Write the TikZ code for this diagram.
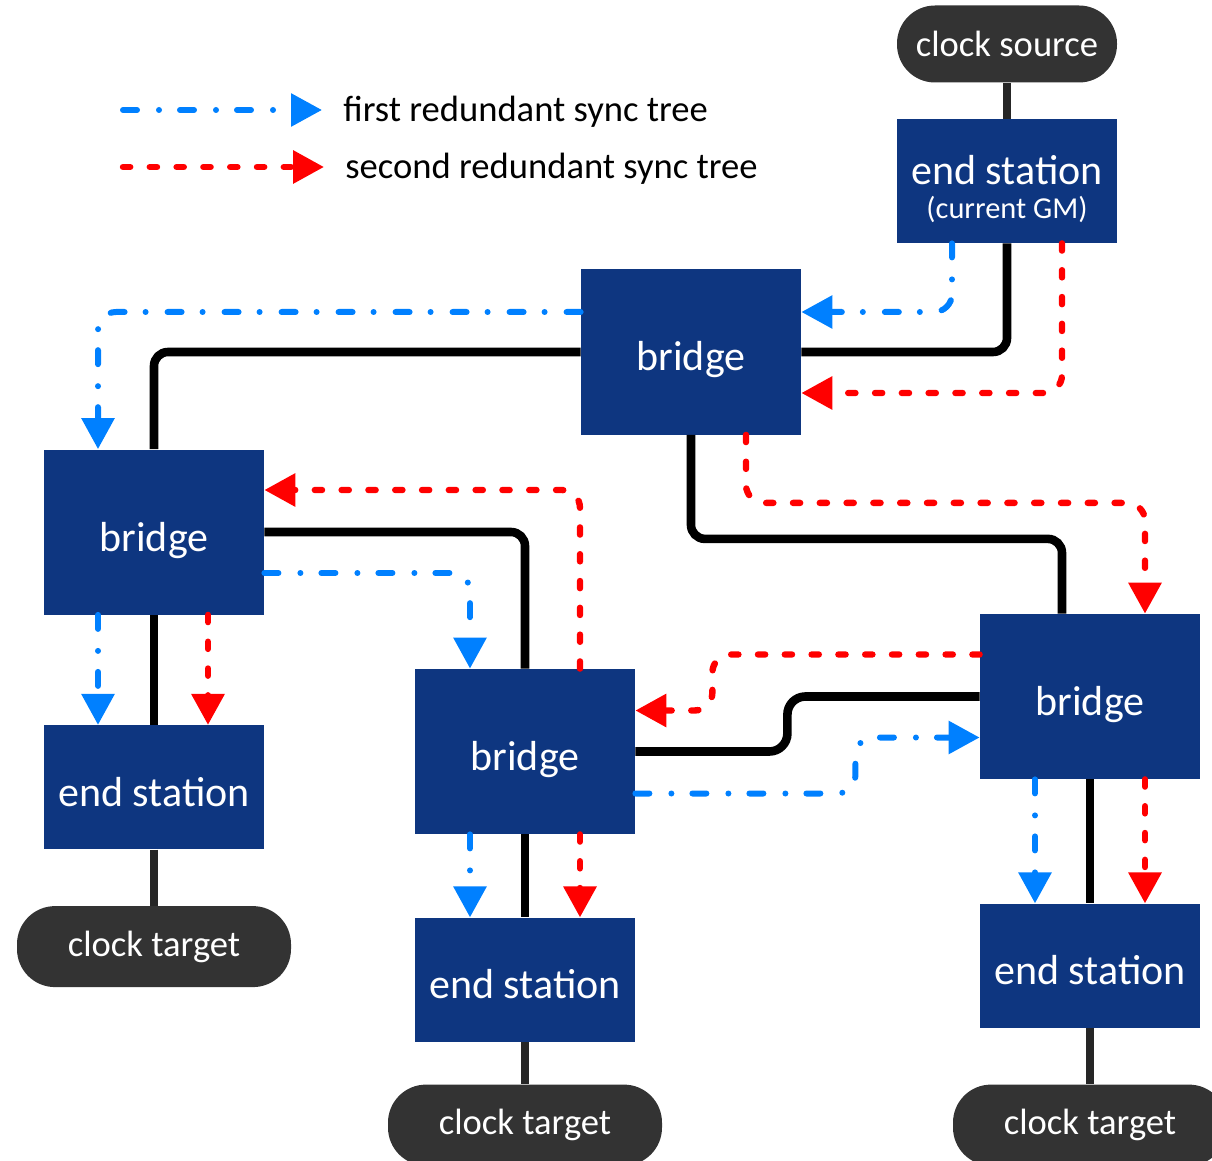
\documentclass[tikz,border=0pt]{standalone}
\usepackage{fontspec}
\setmainfont{Carlito}
\usetikzlibrary{positioning,arrows.meta}

\definecolor{netblue}{RGB}{14,54,128}
\definecolor{pillgray}{RGB}{51,51,51}
\definecolor{treeblue}{RGB}{0,128,255}
\definecolor{treered}{RGB}{255,0,0}

\begin{document}
\begin{tikzpicture}[x=0.5pt, y=-0.5pt]
\tikzset{
    netbox/.style={rectangle, fill=netblue, text=white, text centered, inner sep=0pt, text height=19pt, text depth=0pt, minimum width=110pt, font=\fontsize{21}{25}\selectfont},
    bridgebox/.style={netbox, minimum height=82.5pt},
    stationbox/.style={netbox, minimum height=62pt},
    clockpill/.style={rectangle, rounded corners=19pt, fill=pillgray, text=white, text centered, inner sep=0pt, minimum width=137pt, minimum height=40.5pt, font=\fontsize{18.3}{22}\selectfont},
    legendtext/.style={anchor=west, inner xsep=10.5pt, font=\fontsize{18.3}{22}\selectfont},
    wire/.style={draw=black, line width=4.3pt, rounded corners=7pt},
    pillwire/.style={draw=black!85, line width=4pt},
    treeone/.style={draw=treeblue, line width=3pt, line cap=round, rounded corners=9pt, dash pattern=on 7pt off 11pt on 0pt off 10.5pt, -{Triangle[length=15.5pt, width=16pt, fill=treeblue]}},
    treetwo/.style={draw=treered, line width=3.2pt, line cap=round, rounded corners=9pt, dash pattern=on 3.6pt off 9.8pt, -{Triangle[length=15.5pt, width=16pt, fill=treered]}}
}
\useasboundingbox (0,0) rectangle (1212,1161);

% nodes
\node[clockpill, minimum width=110pt, minimum height=38.5pt] (src) at (1007,44) {clock source};
\node[stationbox, align=center, text height=38pt] (gm) at (1007,181) {end station\\[-8pt]{\fontsize{15.2}{18}\selectfont (current GM)}};
\node[bridgebox] (bt) at (691,352) {bridge};
\node[bridgebox] (bl) at (154,532) {bridge};
\node[stationbox, below=55pt of bl] (esl) {end station};
\node[clockpill, below=28pt of esl] (ctl) {clock target};
\node[bridgebox] (bm) at (525,751.5) {bridge};
\node[stationbox, below=41.5pt of bm] (esm) {end station};
\node[clockpill, below=21pt of esm] (ctm) {clock target};
\node[bridgebox] (br) at (1090,696.5) {bridge};
\node[stationbox, below=62pt of br] (esr) {end station};
\node[clockpill, below=28pt of esr] (ctr) {clock target};

% legend
\coordinate (l1) at (123,110);
\coordinate (l2) at (123,167);
\node[legendtext] (leg1) at (322,112) {first redundant sync tree};
\node[legendtext] (leg2) at (324,169) {second redundant sync tree};
\draw[treeone] (l1) -- (l1 -| leg1.west);
\draw[treetwo] (l2) -- (l2 -| leg2.west);

% wires
\draw[pillwire] (src) -- (gm);
\draw[pillwire] (esl) -- (ctl);
\draw[pillwire] (esm) -- (ctm);
\draw[pillwire] (esr) -- (ctr);
\draw[wire] (gm.south) |- (bt.east);
\draw[wire] (bt.west) -| (bl.north);
\draw[wire] (bt.south) -- ++(0,104) -| ([xshift=-14pt]br.north);
\draw[wire] (bl.east) -| (bm.north);
\draw[wire] (bl) -- (esl);
\draw[wire] (bm) -- (esm);
\draw[wire] (br) -- (esr);
\draw[wire, rounded corners=9pt] (br.west) -| ([xshift=76pt]bm.east) -- (bm.east);

% first tree
\draw[treeone] ([xshift=-27.5pt]gm.south) |- ([yshift=20pt]bt.east);
\draw[treeone] ([yshift=20pt]bt.west) -| ([xshift=-28pt]bl.north);
\draw[treeone] ([yshift=-20.5pt]bl.east) -| ([xshift=-27.5pt]bm.north);
\draw[treeone] ([xshift=-28pt]bl.south) -- ([xshift=-28pt]esl.north);
\draw[treeone] ([yshift=-21pt]bm.east) -- ++(220,0) |- ([yshift=-20.5pt]br.west);
\draw[treeone] ([xshift=-27.5pt]bm.south) -- ([xshift=-27.5pt]esm.north);
\draw[treeone] ([xshift=-27.5pt]br.south) -- ([xshift=-27.5pt]esr.north);

% second tree
\draw[treetwo] ([xshift=27.5pt]gm.south) |- ([yshift=-20.5pt]bt.east);
\draw[treetwo] ([xshift=27.5pt]bt.south) -- ++(0,68) -| ([xshift=27.5pt]br.north);
\draw[treetwo] ([xshift=27.5pt]bm.north) |- ([yshift=21pt]bl.east);
\draw[treetwo] ([xshift=27pt]bl.south) -- ([xshift=27pt]esl.north);
\draw[treetwo] ([yshift=21pt]br.west) -| ([xshift=38.5pt,yshift=20.5pt]bm.east) -- ([yshift=20.5pt]bm.east);
\draw[treetwo] ([xshift=27.5pt]bm.south) -- ([xshift=27.5pt]esm.north);
\draw[treetwo] ([xshift=27.5pt]br.south) -- ([xshift=27.5pt]esr.north);

\end{tikzpicture}
\end{document}
